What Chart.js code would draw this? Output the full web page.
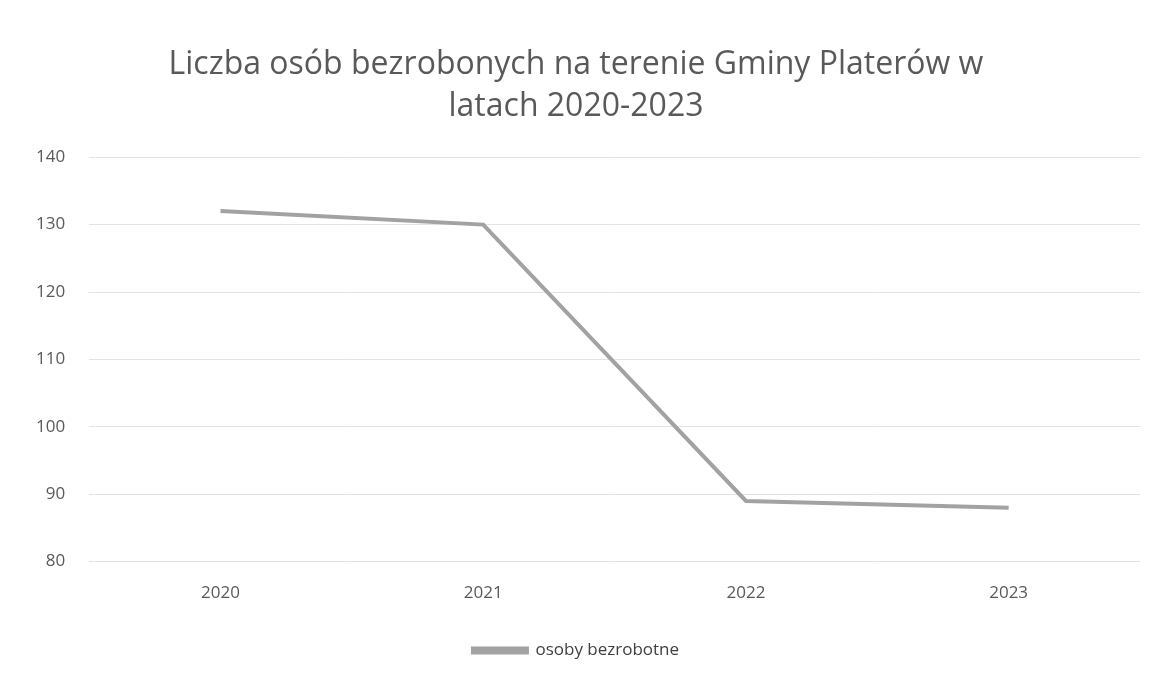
<!DOCTYPE html>
<html>
<head>
<meta charset="utf-8">
<script src="https://cdn.jsdelivr.net/npm/chart.js@4"></script>
<style>
  html, body { margin: 0; padding: 0; background: #fff; }
  #wrap { width: 1164px; height: 678px; position: relative; }
</style>
</head>
<body>
<div id="wrap"><canvas id="chart"></canvas></div>
<script>
// Dane: liczba osób bezrobotnych
const lata = ["2020", "2021", "2022", "2023"];
const bezrobotni = [132, 130, 89, 88];
const tytul = ["Liczba osób bezrobonych na terenie Gminy Platerów w", "latach 2020-2023"];
const nazwaSerii = "osoby bezrobotne";

const ctx = document.getElementById("chart").getContext("2d");
new Chart(ctx, {
  type: "line",
  data: {
    labels: lata,
    datasets: [
      {
        label: nazwaSerii,
        data: bezrobotni,
        borderColor: "#a2a2a2",
        backgroundColor: "#a2a2a2",
        borderWidth: 4,
        pointRadius: 0,
        tension: 0,
        fill: false,
      },
    ],
  },
  options: {
    responsive: true,
    maintainAspectRatio: false,
    animation: false,
    layout: { padding: { left: 12, right: 24, top: 44, bottom: 9 } },
    plugins: {
      title: {
        display: true,
        text: tytul,
        color: "#595959",
        font: { family: "Open Sans", size: 32, weight: "normal", lineHeight: 1.3 },
        padding: { top: 0, bottom: 30 },
      },
      legend: {
        position: "bottom",
        labels: {
          color: "#404040",
          font: { family: "Open Sans", size: 17 },
          boxWidth: 54,
          boxHeight: 4,
          padding: 26,
        },
      },
      tooltip: { enabled: false },
    },
    scales: {
      x: {
        offset: true,
        grid: { display: false },
        border: { display: false },
        ticks: { color: "#595959", font: { family: "Open Sans", size: 17 }, padding: 13 },
      },
      y: {
        min: 80,
        max: 140,
        ticks: { stepSize: 10, color: "#595959", font: { family: "Open Sans", size: 17 }, padding: 24 },
        grid: { color: "#e3e3e3", drawTicks: false },
        border: { display: false },
      },
    },
  },
});
</script>
</body>
</html>
